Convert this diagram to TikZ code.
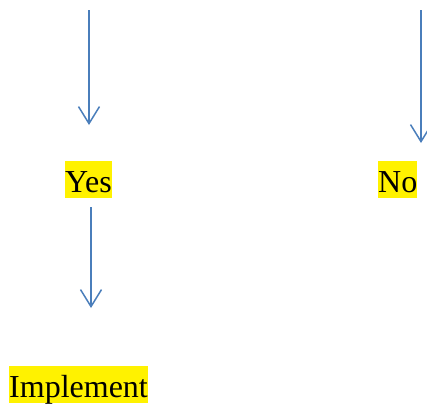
\documentclass[tikz,border=0pt]{standalone}
\usepackage{fontspec}
\setmainfont{Liberation Serif}
\usetikzlibrary{arrows.meta}
\definecolor{arrowblue}{RGB}{74,126,187}
\tikzset{
  hl/.style={fill=yellow, inner xsep=0pt, inner ysep=0pt, text height=31pt, text depth=6pt, anchor=base west, font=\fontsize{32}{38}\selectfont},
  conn/.style={draw=arrowblue, line width=1.5pt, -{Straight Barb[length=17pt, width=21pt, line width=1.5pt]}}
}
\begin{document}
\begin{tikzpicture}[x=1pt, y=-1pt]
\useasboundingbox (0,0) rectangle (427,405);
\clip (0,0) rectangle (427,405);
\node[hl] (yes) at (65,192) {Yes};
\node[hl] (no) at (378,192) {No};
\node[hl] (impl) at (9,397) {Implement};
\coordinate (s1) at (89,10);
\coordinate (e1) at (89,125);
\coordinate (s2) at (421,10);
\coordinate (e2) at (421,143);
\coordinate (s3) at (91,207);
\coordinate (e3) at (91,308);
\draw[conn] (s1) -- (e1);
\draw[conn] (s2) -- (e2);
\draw[conn] (s3) -- (e3);
\end{tikzpicture}
\end{document}
